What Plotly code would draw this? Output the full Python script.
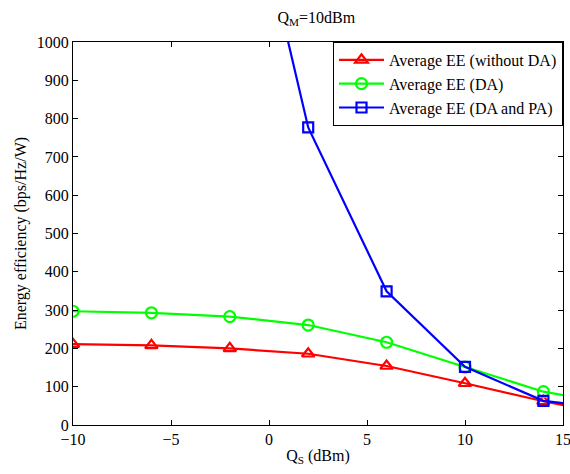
import plotly.graph_objects as go

x = [-10, -6, -2, 2, 6, 10, 14, 18]
ee_without_da = [211, 208, 200, 186, 154, 109, 62, 22]
ee_da = [297, 293, 283, 261, 216, 151, 87, 51]
# first blue points lie far above the visible range
ee_da_pa_x = [-2, 2, 6, 10, 14, 18]
ee_da_pa_y = [1650, 777, 349, 152, 63, 39]

font = "Liberation Serif"

fig = go.Figure()
fig.add_trace(go.Scatter(x=x, y=ee_without_da, mode="lines+markers",
    name="Average EE (without DA)",
    line=dict(color="#ff0000", width=2.2),
    marker=dict(symbol="triangle-up-open", size=11, color="#ff0000", line=dict(width=2.2))))
fig.add_trace(go.Scatter(x=x, y=ee_da, mode="lines+markers",
    name="Average EE (DA)",
    line=dict(color="#00ff00", width=2.2),
    marker=dict(symbol="circle-open", size=11, color="#00ff00", line=dict(width=2.2))))
fig.add_trace(go.Scatter(x=ee_da_pa_x, y=ee_da_pa_y, mode="lines+markers",
    name="Average EE (DA and PA)",
    line=dict(color="#0000ff", width=2.2),
    marker=dict(symbol="square-open", size=10, color="#0000ff", line=dict(width=2.2))))

axis_common = dict(showline=True, linecolor="black", linewidth=1, mirror="ticks",
                   ticks="inside", ticklen=5, tickcolor="black", showgrid=False,
                   zeroline=False, automargin=False, ticklabeloverflow="allow",
                   tickfont=dict(family=font, size=16, color="black"))

fig.update_layout(
    width=570, height=474,
    margin=dict(l=73, r=7, t=42, b=49),
    paper_bgcolor="white", plot_bgcolor="white",
    font=dict(family=font, color="black", size=16),
    title=dict(text="Q<sub>M</sub>=10dBm", x=0.555, xanchor="center", y=0.975, yanchor="top",
               font=dict(family=font, size=16, color="black")),
    xaxis=dict(range=[-10, 15], tickvals=[-10, -5, 0, 5, 10, 15],
               ticktext=["\u221210", "\u22125", "0", "5", "10", "15"],
               title=dict(text="Q<sub>S</sub> (dBm)", font=dict(family=font, size=16), standoff=2),
               **axis_common),
    yaxis=dict(range=[0, 1000], dtick=100,
               title=dict(text="Energy efficiency (bps/Hz/W)", font=dict(family=font, size=16), standoff=6),
               **axis_common),
    legend=dict(x=1, xanchor="right", y=1, yanchor="top", bgcolor="white",
                bordercolor="black", borderwidth=1,
                font=dict(family=font, size=16, color="black"),
                tracegroupgap=0, itemwidth=45),
    showlegend=True,
)

fig.write_html("out.html", config={"displayModeBar": False},
               post_script="document.body.style.margin='0';")
